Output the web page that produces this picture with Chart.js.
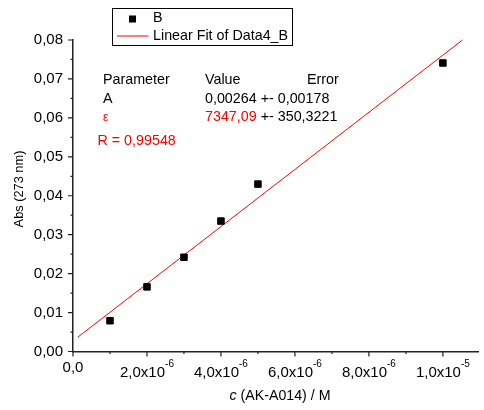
<!DOCTYPE html>
<html>
<head>
<meta charset="utf-8">
<script src="https://cdn.jsdelivr.net/npm/chart.js@4/dist/chart.umd.min.js"></script>
<style>
  html, body { margin: 0; padding: 0; background: #fff; }
</style>
</head>
<body>
<canvas id="mycanvas" width="484" height="410"></canvas>
<script>
// measured points (Abs at 273 nm vs concentration)
const concX = [1e-6, 2e-6, 3e-6, 4e-6, 5e-6, 1e-5];
const absY = [0.0079, 0.0166, 0.0242, 0.0335, 0.0430, 0.0741];

// linear fit line, start and end as drawn
const fitX = [1.33e-7, 1.053e-5];
const fitY = [0.0037, 0.0800];

// axes
const xTicks = [0, 2e-6, 4e-6, 6e-6, 8e-6, 1e-5];
const xTickMantissa = ['0,0', '2,0x10', '4,0x10', '6,0x10', '8,0x10', '1,0x10'];
const xTickExp = ['', '-6', '-6', '-6', '-6', '-5'];
const xMinorTicks = [1e-6, 3e-6, 5e-6, 7e-6, 9e-6];
const yTicks = [0, 0.01, 0.02, 0.03, 0.04, 0.05, 0.06, 0.07, 0.08];
const yTickLabels = ['0,00', '0,01', '0,02', '0,03', '0,04', '0,05', '0,06', '0,07', '0,08'];
const yMinorTicks = [0.005, 0.015, 0.025, 0.035, 0.045, 0.055, 0.065, 0.075];

// fit results table
const paramNames = ['A', 'ε'];
const paramValues = ['0,00264', '7347,09'];
const paramErrors = ['0,00178', '350,3221'];
const rValue = '0,99548';

const FONT = '"Liberation Sans", Arial, sans-serif';
const axisColor = '#222';

// draws ticks, labels, titles, legend and the parameter table
const drawExtras = {
  id: 'drawExtras',
  afterDraw(chart) {
    const ctx = chart.ctx;
    const xs = chart.scales.x;
    const ys = chart.scales.y;
    const left = chart.chartArea.left;
    const bottom = chart.chartArea.bottom;
    ctx.save();

    // tick marks
    ctx.strokeStyle = axisColor;
    ctx.lineWidth = 1.2;
    ctx.beginPath();
    yTicks.forEach(v => { const p = ys.getPixelForValue(v); ctx.moveTo(left - 5, p); ctx.lineTo(left, p); });
    yMinorTicks.forEach(v => { const p = ys.getPixelForValue(v); ctx.moveTo(left - 2.5, p); ctx.lineTo(left, p); });
    xTicks.forEach(v => { const p = xs.getPixelForValue(v); ctx.moveTo(p, bottom); ctx.lineTo(p, bottom + 5); });
    xMinorTicks.forEach(v => { const p = xs.getPixelForValue(v); ctx.moveTo(p, bottom); ctx.lineTo(p, bottom + 2.5); });
    ctx.stroke();

    // y tick labels
    ctx.fillStyle = '#000';
    ctx.font = '15px ' + FONT;
    ctx.textAlign = 'right';
    ctx.textBaseline = 'middle';
    yTicks.forEach((v, i) => ctx.fillText(yTickLabels[i], left - 10, ys.getPixelForValue(v)));

    // x tick labels with superscript exponent
    ctx.textAlign = 'left';
    xTicks.forEach((v, i) => {
      const p = xs.getPixelForValue(v);
      ctx.font = '15px ' + FONT;
      const mw = ctx.measureText(xTickMantissa[i]).width;
      ctx.font = '10px ' + FONT;
      const sw = xTickExp[i] ? ctx.measureText(xTickExp[i]).width : 0;
      const x0 = p - (mw + sw) / 2;
      ctx.font = '15px ' + FONT;
      ctx.fillText(xTickMantissa[i], x0, xTickExp[i] ? bottom + 21.5 : bottom + 16);
      if (sw) {
        ctx.font = '10px ' + FONT;
        ctx.fillText(xTickExp[i], x0 + mw, bottom + 13);
      }
    });

    // axis titles
    ctx.font = 'italic 14.2px ' + FONT;
    const cW = ctx.measureText('c').width;
    ctx.font = '14.2px ' + FONT;
    const restW = ctx.measureText(' (AK-A014) / M').width;
    let tx = 280 - (cW + restW) / 2;
    ctx.font = 'italic 14.2px ' + FONT;
    ctx.fillText('c', tx, 396);
    ctx.font = '14.2px ' + FONT;
    ctx.fillText(' (AK-A014) / M', tx + cW, 396);

    ctx.save();
    ctx.translate(19, 189);
    ctx.rotate(-Math.PI / 2);
    ctx.textAlign = 'center';
    ctx.font = '12.8px ' + FONT;
    ctx.fillText('Abs (273 nm)', 0, 0);
    ctx.restore();

    // legend box
    ctx.fillStyle = '#fff';
    ctx.fillRect(112.5, 8.5, 180, 37);
    ctx.strokeStyle = '#000';
    ctx.lineWidth = 1;
    ctx.strokeRect(112.5, 8.5, 180, 37);
    ctx.fillStyle = '#000';
    ctx.fillRect(129, 15.5, 7, 7);
    ctx.strokeStyle = 'red';
    ctx.beginPath();
    ctx.moveTo(117, 36);
    ctx.lineTo(148.5, 36);
    ctx.stroke();
    ctx.font = '14.3px ' + FONT;
    ctx.textAlign = 'left';
    ctx.fillText(chart.data.datasets[0].label, 153, 18.5);
    ctx.fillText(chart.data.datasets[1].label, 153, 36);

    // parameter table
    ctx.fillStyle = '#000';
    ctx.fillText('Parameter', 103, 80.5);
    ctx.fillText('Value', 205, 80.5);
    ctx.fillText('Error', 307, 80.5);
    ctx.fillText(paramNames[0], 103, 99);
    ctx.fillText(paramValues[0] + ' +- ' + paramErrors[0], 205, 99);

    ctx.fillStyle = 'red';
    ctx.font = '12px ' + FONT;
    ctx.fillText(paramNames[1], 103, 118);
    ctx.font = '14.3px ' + FONT;
    ctx.fillText(paramValues[1], 205, 117.5);
    const vw = ctx.measureText(paramValues[1]).width;
    ctx.fillStyle = '#000';
    ctx.fillText(' +- ' + paramErrors[1], 205 + vw, 117.5);

    ctx.fillStyle = 'red';
    ctx.fillText('R = ' + rValue, 97.5, 141);
    ctx.restore();
  }
};

const ctx = document.getElementById('mycanvas');
const myChart = new Chart(ctx, {
  type: 'scatter',
  data: {
    datasets: [
      {
        label: 'B',
        data: concX.map((x, i) => ({ x: x, y: absY[i] })),
        pointStyle: 'rect',
        pointRadius: 4.6,
        pointBorderWidth: 1,
        backgroundColor: '#000',
        borderColor: '#000',
        showLine: false,
        order: 0
      },
      {
        label: 'Linear Fit of Data4_B',
        data: fitX.map((x, i) => ({ x: x, y: fitY[i] })),
        showLine: true,
        borderColor: 'red',
        borderWidth: 1,
        pointRadius: 0,
        order: 1
      }
    ]
  },
  options: {
    responsive: false,
    animation: false,
    clip: false,
    layout: { padding: { top: 40, right: 0, left: 0, bottom: 0 } },
    plugins: {
      legend: { display: false },
      tooltip: { enabled: false }
    },
    scales: {
      x: {
        type: 'linear',
        min: 0,
        max: 1.096e-5,
        ticks: { display: false },
        grid: { display: false },
        border: { display: true, color: axisColor, width: 1.5 },
        afterFit: (scale) => { scale.height = 58.5; }
      },
      y: {
        type: 'linear',
        min: 0,
        max: 0.08,
        ticks: { display: false },
        grid: { display: false },
        border: { display: true, color: axisColor, width: 1.5 },
        afterFit: (scale) => { scale.width = 73; }
      }
    }
  },
  plugins: [drawExtras]
});
</script>
</body>
</html>
